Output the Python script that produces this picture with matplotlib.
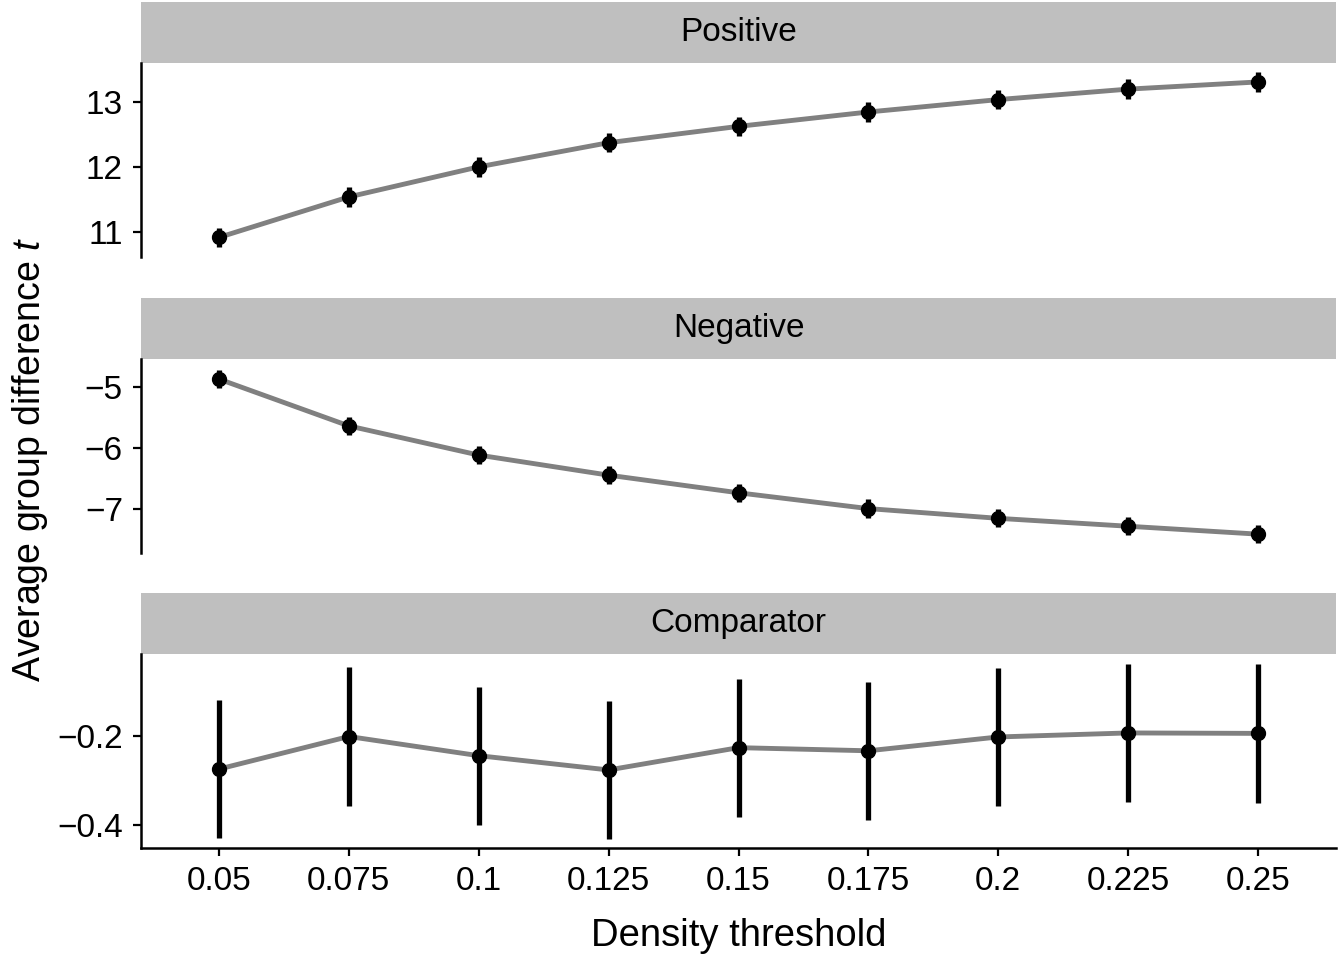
import matplotlib
matplotlib.use("Agg")
import matplotlib.pyplot as plt
import numpy as np

thresholds = ['0.05', '0.075', '0.1', '0.125', '0.15', '0.175', '0.2', '0.225', '0.25']
panels = ['Positive', 'Negative', 'Comparator']
positive = [10.92, 11.54, 12.00, 12.37, 12.62, 12.84, 13.03, 13.19, 13.30]
positive_err = [0.15, 0.15, 0.15, 0.15, 0.15, 0.15, 0.15, 0.15, 0.15]
negative = [-4.87, -5.64, -6.12, -6.45, -6.74, -7.00, -7.16, -7.29, -7.42]
negative_err = [0.15, 0.15, 0.15, 0.15, 0.15, 0.15, 0.15, 0.15, 0.15]
comparator = [-0.275, -0.202, -0.245, -0.277, -0.227, -0.234, -0.203, -0.194, -0.195]
comparator_err = [0.155, 0.155, 0.155, 0.155, 0.155, 0.155, 0.155, 0.155, 0.155]
pos_ticks = [11, 12, 13]
neg_ticks = [-7, -6, -5]
comp_ticks = [-0.4, -0.2]
comp_ticklabels = ['\u22120.4', '\u22120.2']

plt.rcParams['font.family'] = ['Liberation Sans', 'DejaVu Sans']
plt.rcParams['mathtext.fontset'] = 'custom'
plt.rcParams['mathtext.it'] = 'Liberation Sans:italic'
plt.rcParams['mathtext.rm'] = 'Liberation Sans'

W, H = 1339, 959
fig = plt.figure(figsize=(W / 100, H / 100), dpi=100)

def frac(x0, y0, x1, y1):
    return [x0 / W, 1 - y1 / H, (x1 - x0) / W, (y1 - y0) / H]

left, right = 141, 1336
layout = [
    ((2, 63), (63, 257)),
    ((298, 359), (359, 553)),
    ((593, 654), (654, 848)),
]
series = [(positive, positive_err, (10.62, 13.59), pos_ticks, None),
          (negative, negative_err, (-7.73, -4.54), neg_ticks, None),
          (comparator, comparator_err, (-0.452, -0.017), comp_ticks, comp_ticklabels)]

x = np.arange(len(thresholds))
lw_spine = 1.8
for i, (name, ((s0, s1), (p0, p1)), (vals, errs, ylim, yt, ytl)) in enumerate(zip(panels, layout, series)):
    sax = fig.add_axes(frac(left, s0, right, s1))
    sax.set_facecolor('#bfbfbf')
    for sp in sax.spines.values():
        sp.set_visible(False)
    sax.set_xticks([]); sax.set_yticks([])
    sax.text(0.5, 0.5, name, ha='center', va='center', fontsize=24, transform=sax.transAxes)

    ax = fig.add_axes(frac(left, p0, right, p1))
    ax.plot(x, vals, color='#808080', lw=3.5, zorder=2, solid_capstyle='butt')
    ax.errorbar(x, vals, yerr=errs, fmt='none', ecolor='black', elinewidth=3.8, capsize=0, zorder=3)
    ax.plot(x, vals, 'o', color='black', ms=10, zorder=4)
    ax.set_xlim(-0.6, 8.6)
    ax.set_ylim(*ylim)
    ax.set_yticks(yt)
    if ytl is not None:
        ax.set_yticklabels(ytl)
    ax.spines['top'].set_visible(False)
    ax.spines['right'].set_visible(False)
    ax.spines['left'].set_linewidth(lw_spine)
    ax.spines['bottom'].set_linewidth(lw_spine)
    ax.tick_params(axis='both', labelsize=24, length=6, width=1.6, pad=7, color='black')
    if i < 2:
        ax.spines['bottom'].set_visible(False)
        ax.set_xticks([])
    else:
        ax.set_xticks(x)
        ax.set_xticklabels(thresholds)
        ax.tick_params(axis='x', pad=7)

fig.text(0.5 * (left + right) / W, 1 - 936 / H, 'Density threshold', ha='center', va='center', fontsize=27.5)
fig.text(30 / W, 1 - 459 / H, 'Average group difference $t$', ha='center', va='center',
         rotation=90, fontsize=27)

fig.savefig('out.png', dpi=100)
